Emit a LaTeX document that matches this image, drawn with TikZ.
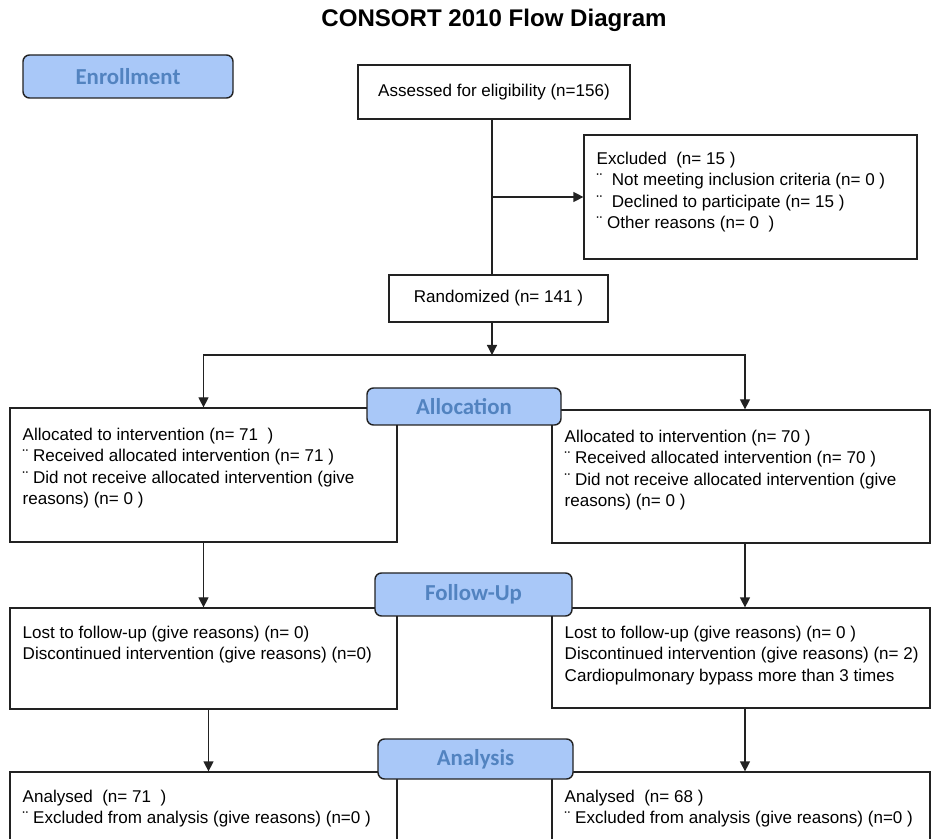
\documentclass[tikz,border=0pt]{standalone}
\usepackage{fontspec}
\setmainfont{Liberation Sans}
\newfontfamily\stagefont{Carlito}
\usepackage{tikz}
\usetikzlibrary{arrows.meta}

\definecolor{stagefill}{HTML}{A9C8F8}
\definecolor{stagetext}{HTML}{5283C0}
\definecolor{linegray}{HTML}{222222}

\begin{document}
\begin{tikzpicture}[
        box/.style={draw=linegray, line width=0.7pt, rectangle, inner sep=0pt},
        stage/.style={draw=linegray, line width=0.8pt, rounded corners=0.13cm, fill=stagefill,
                      text=stagetext, font=\stagefont\bfseries\fontsize{13}{15}\selectfont, inner sep=0pt},
        txt/.style={anchor=north west, inner sep=0pt, align=left, font=\fontsize{9.7}{12.3}\selectfont},
        flow/.style={draw=linegray, line width=0.7pt, -{Triangle[length=2mm,width=2mm]}}
    ]
        \useasboundingbox (0,0) rectangle (18.64,-16.78);
        \clip (0,0) rectangle (18.64,-16.78);
        % title on top
        \node (title) at (9.88,-0.4) {\bfseries\fontsize{13.7}{16}\selectfont CONSORT 2010 Flow Diagram};
        % stage labels
        \node[stage, minimum width=4.2cm, minimum height=0.86cm] (enrol) at (2.56,-1.53) {Enrollment};
        % enrollment boxes
        \node[box, minimum width=5.44cm, minimum height=1.08cm] (assess) at (9.88,-1.84)
            {\fontsize{9.7}{11.9}\selectfont Assessed for eligibility (n=156)};
        \node[box, minimum width=6.66cm, minimum height=2.48cm] (excl) at (15.01,-3.94) {};
        \node[txt] (excltxt) at ([shift={(0.26,-0.34)}]excl.north west)
            {Excluded\ \ (n= 15 )\\ ¨\ \ Not meeting inclusion criteria (n= 0 )\\
             ¨\ \ Declined to participate (n= 15 )\\ ¨ Other reasons (n= 0\ \ )};
        \node[box, minimum width=4.38cm, minimum height=0.94cm] (rand) at (9.97,-5.97)
            {\fontsize{9.7}{11.9}\selectfont Randomized (n= 141 )};
        % allocation boxes
        \node[box, minimum width=7.74cm, minimum height=2.68cm] (allocl) at (4.07,-9.5) {};
        \node[txt] (allocltxt) at ([shift={(0.26,-0.4)}]allocl.north west)
            {Allocated to intervention (n= 71\ \ )\\ ¨ Received allocated intervention (n= 71 )\\
             ¨ Did not receive allocated intervention (give\\ reasons) (n= 0 )};
        \node[box, minimum width=7.56cm, minimum height=2.66cm] (allocr) at (14.82,-9.53) {};
        \node[txt] (allocrtxt) at ([shift={(0.26,-0.4)}]allocr.north west)
            {Allocated to intervention (n= 70 )\\ ¨ Received allocated intervention (n= 70 )\\
             ¨ Did not receive allocated intervention (give\\ reasons) (n= 0 )};
        % follow-up boxes
        \node[box, minimum width=7.74cm, minimum height=2.02cm] (followl) at (4.07,-13.17) {};
        \node[txt] (followltxt) at ([shift={(0.26,-0.36)}]followl.north west)
            {Lost to follow-up (give reasons) (n= 0)\\ Discontinued intervention (give reasons) (n=0)};
        \node[box, minimum width=7.56cm, minimum height=2.0cm] (followr) at (14.82,-13.16) {};
        \node[txt] (followrtxt) at ([shift={(0.26,-0.36)}]followr.north west)
            {Lost to follow-up (give reasons) (n= 0 )\\ Discontinued intervention (give reasons) (n= 2)\\
             Cardiopulmonary bypass more than 3 times};
        % analysis boxes (cut at the bottom)
        \node[box, minimum width=7.74cm, minimum height=1.96cm] (anal) at (4.07,-16.42) {};
        \node[txt] (analltxt) at ([shift={(0.26,-0.36)}]anal.north west)
            {Analysed\ \ (n= 71\ \ )\\ ¨ Excluded from analysis (give reasons) (n=0 )};
        \node[box, minimum width=7.56cm, minimum height=1.96cm] (anar) at (14.82,-16.42) {};
        \node[txt] (anartxt) at ([shift={(0.26,-0.36)}]anar.north west)
            {Analysed\ \ (n= 68 )\\ ¨ Excluded from analysis (give reasons) (n=0 )};
        % connectors
        \draw[draw=linegray, line width=0.7pt] ([xshift=-0.04cm]assess.south) -- ([xshift=-0.04cm]assess.south |- rand.north);
        \draw[flow] ([xshift=-0.04cm]assess.south |- excl.west) -- (excl.west);
        \coordinate (split) at ([xshift=-0.04cm]assess.south |- 0,-7.1);
        \draw[flow] (split |- rand.south) -- (split);
        \draw[flow] (split) -| (allocl.north);
        \draw[flow] (split) -| ([xshift=0.08cm]allocr.north);
        \draw[flow] (allocl.south) -- (followl.north);
        \draw[flow] ([xshift=0.08cm]allocr.south) -- ([xshift=0.08cm]followr.north);
        \draw[flow] ([xshift=0.1cm]followl.south) -- ([xshift=0.1cm]anal.north);
        \draw[flow] ([xshift=0.08cm]followr.south) -- ([xshift=0.08cm]anar.north);
        % stage labels over the boxes
        \node[stage, minimum width=3.88cm, minimum height=0.74cm] (alloc) at (9.28,-8.13) {Allocation};
        \node[stage, minimum width=3.94cm, minimum height=0.86cm] (follow) at (9.47,-11.89) {Follow-Up};
        \node[stage, minimum width=3.9cm, minimum height=0.8cm] (analysis) at (9.51,-15.18) {Analysis};
\end{tikzpicture}
\end{document}
